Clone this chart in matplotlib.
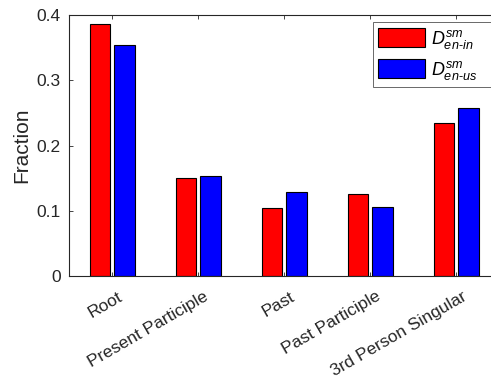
import matplotlib
matplotlib.use("Agg")
import matplotlib.pyplot as plt
import matplotlib.transforms as mtransforms
import numpy as np

plt.rcParams['font.family'] = ['Liberation Sans', 'DejaVu Sans']
plt.rcParams['mathtext.fontset'] = 'custom'
plt.rcParams['mathtext.it'] = 'Liberation Sans:italic'
plt.rcParams['mathtext.rm'] = 'Liberation Sans'

categories = ["Root", "Present Participle", "Past", "Past Participle", "3rd Person Singular"]
en_in = [0.386, 0.150, 0.104, 0.126, 0.234]
en_us = [0.354, 0.153, 0.128, 0.106, 0.258]
series_labels = [r'$D^{sm}_{en\text{-}in}$', r'$D^{sm}_{en\text{-}us}$']
yticks = [0, 0.1, 0.2, 0.3, 0.4]
ytick_labels = ["0", "0.1", "0.2", "0.3", "0.4"]

axis_color = (0.15, 0.15, 0.15)

fig = plt.figure(figsize=(4.91, 3.76), dpi=100)
ax = fig.add_axes([0.1411, 0.266, 0.8758, 0.694])

x = np.arange(len(categories))
width = 0.233
offset = 0.142
ax.bar(x - offset, en_in, width, color='#ff0000', edgecolor='black', linewidth=0.8,
       label=series_labels[0])
ax.bar(x + offset, en_us, width, color='#0000ff', edgecolor='black', linewidth=0.8,
       label=series_labels[1])

ax.set_xlim(-0.5, len(categories) - 0.5)
ax.set_ylim(0, 0.4)
ax.set_yticks(yticks)
ax.set_yticklabels(ytick_labels, fontsize=12.5)
ax.set_xticks(x)
ax.set_xticklabels([])

# rotated category labels, anchored at their upper-right corner just below each tick
label_tf = ax.get_xaxis_transform() + mtransforms.ScaledTranslation(
    5 / 100, -13 / 100, fig.dpi_scale_trans)
for xi, name in zip(x, categories):
    ax.text(xi, 0, name, transform=label_tf, fontsize=12.5, rotation=30,
            ha='right', va='top', rotation_mode='anchor', color=axis_color,
            clip_on=False)

ax.tick_params(axis='both', direction='in', length=3, width=0.6, color=axis_color,
               labelcolor=axis_color)
ax.tick_params(axis='x', top=True, bottom=True)
ax.tick_params(axis='y', left=True, right=False, pad=6)
for s in ax.spines.values():
    s.set_color(axis_color)
    s.set_linewidth(0.8)
ax.spines['right'].set_visible(False)

ax.set_ylabel("Fraction", fontsize=15, color=axis_color, labelpad=4)

leg = ax.legend(loc='upper left', bbox_to_anchor=(0.706, 0.6, 0.36, 0.373),
                mode='expand', fontsize=13,
                frameon=True, fancybox=False, handlelength=2.6, handleheight=1.3,
                borderpad=0.3, labelspacing=0.45, handletextpad=0.3, borderaxespad=0)
leg.get_frame().set_edgecolor(axis_color)
leg.get_frame().set_linewidth(0.6)

fig.savefig("out.png", dpi=100)
